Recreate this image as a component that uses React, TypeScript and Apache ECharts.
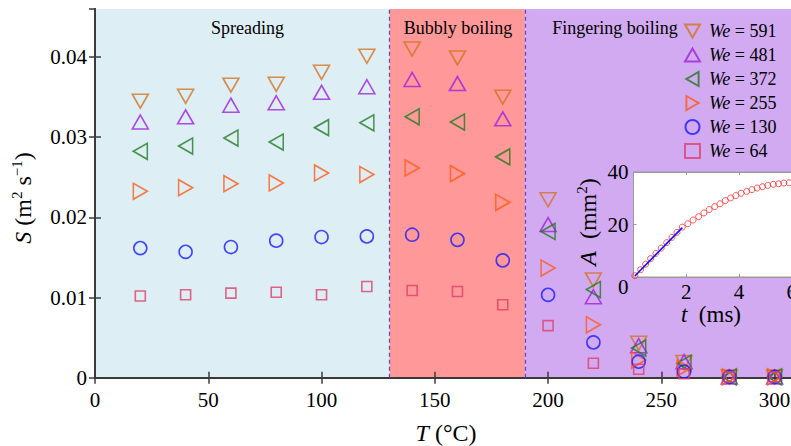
import React, { useEffect, useRef } from 'react';
import * as echarts from 'echarts';

// Main chart data
const temperatures = [20, 40, 60, 80, 100, 120, 140, 160, 180, 200, 220, 240, 260, 280, 300];
const we591 = [0.0345, 0.0351, 0.0365, 0.0366, 0.0381, 0.0401, 0.041, 0.0399, 0.035, 0.0222, 0.0122, 0.0043, 0.0019, 0.0001, 0.0001];
const we481 = [0.0319, 0.03255, 0.034, 0.0343, 0.0356, 0.0363, 0.0372, 0.0367, 0.0323, 0.0191, 0.0101, 0.004, 0.002, 0.0001, 0.0001];
const we372 = [0.02825, 0.0289, 0.0299, 0.0294, 0.0312, 0.0318, 0.03255, 0.0319, 0.02755, 0.01825, 0.011, 0.0037, 0.0018, 0.0001, 0.0001];
const we255 = [0.02325, 0.0237, 0.0242, 0.0243, 0.02555, 0.02534, 0.02617, 0.02546, 0.02188, 0.01368, 0.0066, 0.0022, 0.0012, 0.0001, 0.0001];
const we130 = [0.01617, 0.0157, 0.0163, 0.0171, 0.01755, 0.01763, 0.01784, 0.0172, 0.01463, 0.01034, 0.0044, 0.002, 0.00075, 0.0001, 0.0001];
const we64 = [0.0102, 0.01034, 0.01055, 0.01067, 0.01034, 0.01138, 0.01088, 0.01075, 0.0091, 0.0065, 0.0018, 0.00105, 0.0005, 0.0001, 0.0001];

const seriesNames = ['We = 591', 'We = 481', 'We = 372', 'We = 255', 'We = 130', 'We = 64'];
const regionNames = ['Spreading', 'Bubbly boiling', 'Fingering boiling'];
const regionBounds = [0, 130, 190, 309];

// Inset data
const insetT = [0.05, 0.27, 0.46, 0.65, 0.85, 1.05, 1.26, 1.46, 1.65, 1.85, 2.06, 2.26, 2.47, 2.67, 2.87, 3.08, 3.28, 3.48, 3.68, 3.88, 4.08, 4.29, 4.49, 4.69, 4.89, 5.09, 5.3, 5.5, 5.7, 5.9, 6.1, 6.3];
const insetA = [0.5, 2.8, 4.9, 7.0, 9.0, 11.0, 13.1, 15.1, 17.0, 19.0, 20.3, 21.7, 23.0, 24.4, 25.7, 26.8, 27.9, 29.1, 30.1, 31.0, 31.9, 32.6, 33.3, 33.9, 34.4, 34.9, 35.3, 35.5, 35.8, 35.9, 36.0, 36.1];
const fitT = [0.05, 1.85];
const fitA = [0.4, 18.8];

const FONT = 'Liberation Serif, Times New Roman, serif';
const AXIS_COLOR = '#3a3a3a';

export default function App() {
  const ref = useRef<HTMLDivElement>(null);

  useEffect(() => {
    if (!ref.current) return;
    const chart = echarts.init(ref.current, undefined, { renderer: 'svg' });

    const styles = [
      { symbol: 'triangle', rotate: 180, color: '#d4731f', size: [16, 14], icon: 'path://M0,0L16,0L8,14Z' },
      { symbol: 'triangle', rotate: 0, color: '#a020e0', size: [16, 14], icon: 'path://M8,0L16,14L0,14Z' },
      { symbol: 'triangle', rotate: 90, color: '#1f7a1f', size: [16, 14], icon: 'path://M14,0L14,16L0,8Z' },
      { symbol: 'triangle', rotate: -90, color: '#ff5a14', size: [16, 14], icon: 'path://M0,0L14,8L0,16Z' },
      { symbol: 'circle', rotate: 0, color: '#1a1aff', size: 13, icon: 'circle' },
      { symbol: 'rect', rotate: 0, color: '#e0406a', size: 10, icon: 'rect' },
    ];
    const values = [we591, we481, we372, we255, we130, we64];

    const mainSeries: any[] = values.map((vals, i) => ({
      name: seriesNames[i],
      type: 'scatter',
      xAxisIndex: 0,
      yAxisIndex: 0,
      z: 3,
      symbol: styles[i].symbol,
      symbolRotate: styles[i].rotate,
      symbolSize: styles[i].size,
      itemStyle: { color: 'rgba(0,0,0,0)', borderColor: styles[i].color, borderWidth: 1.6 },
      data: temperatures.map((t, j) => [t, vals[j]]),
    }));

    const regionColors = ['#ddeef5', '#ff9898', '#d1aaf2'];
    mainSeries[0].markArea = {
      silent: true,
      z: 0,
      itemStyle: { opacity: 1 },
      data: regionColors.map((c, k) => [
        { xAxis: regionBounds[k], itemStyle: { color: c } },
        { xAxis: regionBounds[k + 1] },
      ]),
    };
    mainSeries[0].markLine = {
      silent: true,
      symbol: 'none',
      label: { show: false },
      lineStyle: { color: '#4a4ae8', type: [4, 3], width: 1.2 },
      data: [{ xAxis: regionBounds[1] }, { xAxis: regionBounds[2] }],
    };

    const insetSeries = [
      {
        name: 'inset',
        type: 'scatter',
        xAxisIndex: 2,
        yAxisIndex: 2,
        z: 12,
        symbol: 'circle',
        symbolSize: 6,
        itemStyle: { color: 'rgba(0,0,0,0)', borderColor: '#ff2a2a', borderWidth: 1 },
        data: insetT.map((t, i) => [t, insetA[i]]),
      },
      {
        name: 'fit',
        type: 'line',
        xAxisIndex: 2,
        yAxisIndex: 2,
        z: 13,
        symbol: 'none',
        lineStyle: { color: '#1010ff', width: 1.6 },
        data: fitT.map((t, i) => [t, fitA[i]]),
      },
    ];

    const tickLabel = { fontFamily: FONT, fontSize: 21, color: '#000' };
    const axisLine = { show: true, lineStyle: { color: AXIS_COLOR, width: 1.8 } };
    const axisTick = { show: true, inside: true, length: 6, lineStyle: { color: AXIS_COLOR, width: 1.5 } };
    const insetLine = { show: true, lineStyle: { color: '#9a9a9a', width: 1 } };
    const insetTick = { show: true, inside: true, length: 3, lineStyle: { color: '#9a9a9a', width: 1 } };

    const titleText = (x: number, y: number, text: string, size: number, rotation = 0, rich: any = {}) => ({
      type: 'text',
      x,
      y,
      rotation,
      z: 100,
      style: {
        text,
        fontFamily: FONT,
        fontSize: size,
        fill: '#000',
        align: 'center',
        verticalAlign: 'middle',
        rich,
      },
    });

    const richBase = (size: number, lh: number) => ({
      i: { fontStyle: 'italic', fontFamily: FONT, fontSize: size, fill: '#000', lineHeight: lh, verticalAlign: 'middle' },
      n: { fontFamily: FONT, fontSize: size, fill: '#000', lineHeight: lh, verticalAlign: 'middle' },
      s: { fontFamily: FONT, fontSize: Math.round(size * 0.62), fill: '#000', lineHeight: lh, verticalAlign: 'top' },
    });

    const option: any = {
      animation: false,
      backgroundColor: '#fff',
      grid: [
        { left: 95, top: 9, width: 700, height: 368.7, containLabel: false },
        { left: 633.5, top: 172, width: 211, height: 105, show: true, backgroundColor: '#fff', borderColor: '#9a9a9a', borderWidth: 1, z: 10 },
      ],
      legend: {
        data: seriesNames.map((n, i) => ({ name: n, icon: styles[i].icon })),
        orient: 'vertical',
        left: 679,
        top: 17,
        itemWidth: 15,
        itemHeight: 14,
        itemGap: 6,
        selectedMode: false,
        formatter: (name: string) => name.replace('We', '{i|We}'),
        textStyle: {
          fontFamily: FONT,
          fontSize: 18,
          color: '#000',
          padding: [0, 0, 0, 4],
          rich: { i: { fontStyle: 'italic', fontFamily: FONT, fontSize: 18, color: '#000' } },
        },
      },
      xAxis: [
        {
          type: 'value', gridIndex: 0, position: 'bottom', min: 0, max: 309, interval: 50,
          axisLine, axisTick, splitLine: { show: false },
          axisLabel: { ...tickLabel, margin: 12, showMaxLabel: false },
        },
        {
          type: 'value', gridIndex: 0, position: 'top', min: 0, max: 309, interval: 50,
          axisLine, axisTick, splitLine: { show: false }, axisLabel: { show: false },
        },
        {
          type: 'value', gridIndex: 1, position: 'bottom', min: 0, max: 8, interval: 2, z: 11,
          axisLine: insetLine, axisTick: insetTick, splitLine: { show: false },
          axisLabel: { ...tickLabel, margin: 4, showMaxLabel: false, formatter: (v: number) => (v === 0 ? '' : String(v)) },
        },
        {
          type: 'value', gridIndex: 1, position: 'top', min: 0, max: 8, interval: 2, z: 11,
          axisLine: insetLine, axisTick: insetTick, splitLine: { show: false }, axisLabel: { show: false },
        },
      ],
      yAxis: [
        {
          type: 'value', gridIndex: 0, position: 'left', min: 0, max: 0.046, interval: 0.01,
          axisLine, axisTick, splitLine: { show: false },
          axisLabel: { ...tickLabel, margin: 8, showMaxLabel: false, formatter: (v: number) => (v === 0 ? '0' : v.toFixed(2)) },
        },
        {
          type: 'value', gridIndex: 0, position: 'right', min: 0, max: 0.046, interval: 0.01,
          axisLine, axisTick, splitLine: { show: false }, axisLabel: { show: false },
        },
        {
          type: 'value', gridIndex: 1, position: 'left', min: 0, max: 40, interval: 20, z: 11,
          axisLine: insetLine, axisTick: insetTick, splitLine: { show: false },
          axisLabel: {
            ...tickLabel, margin: 5,
            formatter: (v: number) => (v === 0 ? '{z|0}' : String(v)),
            rich: { z: { fontFamily: FONT, fontSize: 21, color: '#000', padding: [20, 0, 0, 0] } },
          },
        },
      ],
      graphic: [
        titleText(247.5, 28, regionNames[0], 18),
        titleText(458, 28, regionNames[1], 18),
        titleText(615, 28, regionNames[2], 18),
        titleText(446, 433, '{i|T} {n|(°C)}', 24, 0, richBase(24, 28)),
        titleText(23, 198, '{i|S} {n|(m}{s|2}{n| s}{s|−1}{n|)}', 24, Math.PI / 2, richBase(24, 28)),
        titleText(588, 222, '{i|A} {n| (mm}{s|2}{n|)}', 24, Math.PI / 2, richBase(24, 28)),
        titleText(711, 314, '{i|t} {n| (ms)}', 23, 0, richBase(23, 22)),
      ],
      series: [...mainSeries, ...insetSeries],
    };

    chart.setOption(option);
    return () => chart.dispose();
  }, []);

  return (
    <div
      ref={ref}
      style={{ position: 'fixed', left: 0, top: 0, width: 900, height: 446 }}
    />
  );
}
